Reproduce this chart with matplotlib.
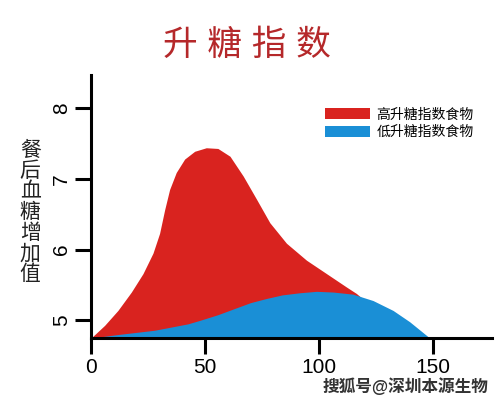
import matplotlib
matplotlib.use("Agg")
import matplotlib.pyplot as plt

plt.rcParams["font.family"] = ["Liberation Sans", "Noto Sans CJK SC"]

# Data
high_x = [0, 6.0, 11.8, 17.7, 22.8, 27.2, 30.1, 32.3, 34.5, 37.4, 41.1, 45.5, 50.6, 55.7,
          61.0, 66.8, 72.7, 78.5, 85.8, 94.6, 103.4, 112.2, 116.5, 125, 138, 146]
high_y = [4.75, 4.93, 5.14, 5.40, 5.66, 5.95, 6.23, 6.56, 6.85, 7.09, 7.28, 7.39, 7.44, 7.43,
          7.32, 7.04, 6.71, 6.38, 6.09, 5.85, 5.66, 5.47, 5.38, 5.15, 4.90, 4.75]

low_x = [0, 12, 27.9, 42.5, 47.8, 55.7, 62.4, 70.0, 77.1, 84.0, 91.7, 99.0, 106.3, 115.0,
         123.8, 132.6, 139.9, 148.7]
low_y = [4.75, 4.80, 4.86, 4.95, 5.00, 5.08, 5.16, 5.25, 5.31, 5.36, 5.39, 5.41, 5.40, 5.37,
         5.28, 5.14, 4.98, 4.75]

x_ticks = [0, 50, 100, 150]
y_ticks = [5, 6, 7, 8]
labels = ["高升糖指数食物", "低升糖指数食物"]

base = 4.75

fig = plt.figure(figsize=(5.04, 4.17), dpi=100)
ax = fig.add_axes([0.1806, 0.1894, 0.7954, 0.631])

ax.fill_between(high_x, base, high_y, color="#d9231f", linewidth=0, label=labels[0])
ax.fill_between(low_x, base, low_y, color="#1a8fd6", linewidth=0, label=labels[1])

ax.set_xlim(0, 176)
ax.set_ylim(base, 8.47)
ax.set_xticks(x_ticks)
ax.set_yticks(y_ticks)

for side in ["top", "right"]:
    ax.spines[side].set_visible(False)
for side in ["left", "bottom"]:
    ax.spines[side].set_linewidth(2.2)
    ax.spines[side].set_color("black")

ax.tick_params(axis="both", direction="out", length=11.5, width=2.2, labelsize=15, pad=3)
for lbl in ax.get_yticklabels():
    lbl.set_rotation(90)
    lbl.set_va("center")

# Title
fig.text(0.49, 0.89, "升 糖 指 数", ha="center", va="center", fontsize=25, color="#b5282a")

# Vertical y label, one character per line
fig.text(0.06, 0.49, "\n".join("餐后血糖增加值"), ha="center", va="center",
         fontsize=15, color="#222222", linespacing=1.08)

ax.legend(loc="upper left", bbox_to_anchor=(0.645, 0.742), bbox_transform=fig.transFigure,
          frameon=False, fontsize=10, handlelength=3.2, handleheight=0.87,
          handletextpad=0.5, labelspacing=0.25, borderpad=0, borderaxespad=0)

# Watermark
fig.text(0.97, 0.075, "搜狐号@深圳本源生物", ha="right", va="center", fontsize=12,
         color="#333333", fontweight="bold")

fig.savefig("out.png", dpi=100)
